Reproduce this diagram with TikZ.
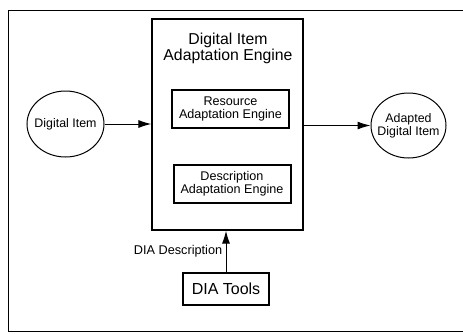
\documentclass[tikz,border=0pt]{standalone}
\usepackage{fontspec}
\setmainfont{Liberation Sans}
\usetikzlibrary{arrows.meta,shapes.geometric}
\tikzset{
  engine/.style={draw, line width=1.2pt, minimum width=151pt, minimum height=211pt},
  subengine/.style={draw, line width=2pt, minimum width=117pt, minimum height=38pt, align=center, font=\fontsize{12.6}{13}\selectfont},
  item/.style={draw, ellipse, line width=1pt, inner sep=0pt,
    label={[align=center, font=\fontsize{12.4}{13}\selectfont]center:#1}},
  tools/.style={draw, line width=2.5pt, minimum width=86pt, minimum height=32pt, font=\fontsize{16}{18}\selectfont},
  flow/.style={-{Latex[length=13pt,width=8pt]}, line width=1pt}
}
\begin{document}
\begin{tikzpicture}[x=1pt,y=-1pt]
\useasboundingbox (0,0) rectangle (463,333);
\draw[line width=1pt] (463,10) -- (8,10) -- (8,331) -- (463,331);
\node[engine] (diae) at (227.5,124.5) {};
\node[align=center, font=\fontsize{15.8}{16}\selectfont] (title) at (228,48) {Digital Item\\Adaptation Engine};
\node[subengine] (rae) at (230.5,109) {Resource\\Adaptation Engine};
\node[subengine] (dae) at (232,184) {Description\\Adaptation Engine};
\node[item={Digital Item}, minimum width=77pt, minimum height=66pt] (di) at (65.5,124) {};
\node[item={Adapted\\Digital Item}, minimum width=75pt, minimum height=65pt] (adi) at (408.5,125.5) {};
\node[tools] (tools) at (226,289) {DIA Tools};
\draw[flow] (di) -- (di -| diae.west);
\draw[flow] (diae.east |- adi) -- (adi.west);
\draw[flow] (tools) -- (tools |- diae.south) node[pos=0.5, left, font=\fontsize{12.7}{13}\selectfont] {DIA Description};
\end{tikzpicture}
\end{document}
